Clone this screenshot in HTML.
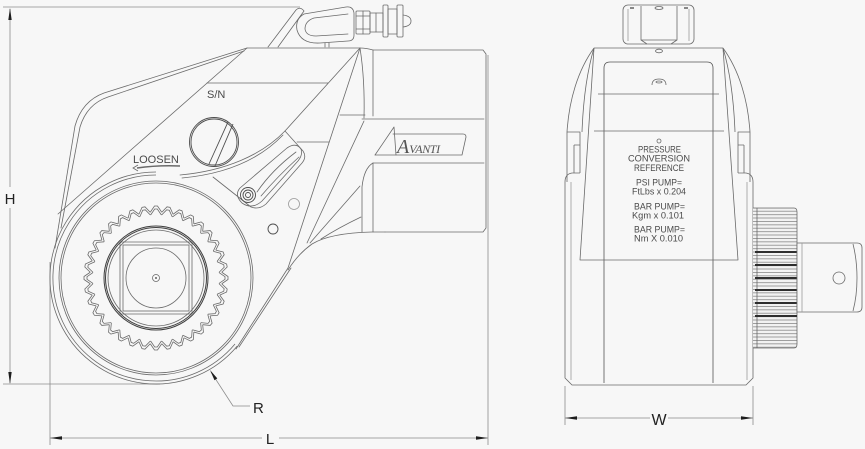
<!DOCTYPE html>
<html><head><meta charset="utf-8">
<style>
html,body{margin:0;padding:0;background:#f7f7f7;}
svg{display:block;}
</style></head>
<body>
<svg width="865" height="449" viewBox="0 0 865 449" xmlns="http://www.w3.org/2000/svg">
<defs>
<pattern id="st" width="6" height="3.4" patternUnits="userSpaceOnUse">
<rect width="6" height="3.4" fill="#f2f2f2"/>
<rect y="0" width="6" height="0.8" fill="#8a8a8a"/>
</pattern>
<g id="t" fill="none" stroke="#6a6a6a" stroke-width="0.8">
<path d="M150.25,212.25 L154.5,206 L157.5,206 L161.75,212.25"/>
<path d="M150.6,215 L154.7,209 L157.3,209 L161.4,215"/>
</g>
</defs>
<rect width="865" height="449" fill="#f7f7f7"/>

<!-- ===== DIMENSIONS ===== -->
<g fill="none" stroke="#8c8c8c" stroke-width="0.8">
<path d="M3,7 H300"/>
<path d="M10,9 V187 M10,208 V383"/>
<path d="M3,384 H160"/>
<path d="M50,262 V445"/>
<path d="M488,55 V445"/>
<path d="M50,438 H262 M279,438 H488"/>
<path d="M211,372 L233,406 H250"/>
<path d="M565,386 V425 M753,386 V425"/>
<path d="M565,418 H650 M668,418 H753"/>
</g>
<g fill="#1e1e1e" stroke="none">
<polygon points="10,8 8.3,20 11.7,20"/>
<polygon points="10,384 8.3,372 11.7,372"/>
<polygon points="50,438 62,436.3 62,439.7"/>
<polygon points="488,438 476,436.3 476,439.7"/>
<polygon points="210,370 217.3,378.4 214.5,380.2"/>
<polygon points="565,418 577,416.3 577,419.7"/>
<polygon points="753,418 741,416.3 741,419.7"/>
</g>
<g font-family="Liberation Sans, sans-serif" fill="#222">
<text x="10" y="204" font-size="15" text-anchor="middle">H</text>
<text x="270" y="444" font-size="15" text-anchor="middle">L</text>
<text x="253" y="413" font-size="15">R</text>
<text x="659" y="425" font-size="16" text-anchor="middle">W</text>
</g>

<!-- ===== SIDE VIEW ===== -->
<g fill="none" stroke="#6a6a6a" stroke-width="0.8" stroke-linejoin="round" stroke-linecap="round">
<!-- top fitting -->
<path d="M268,47 L296,10 Q300,6 304,11 L278,47"/>
<path d="M304,14 L346,7 Q353,6 354,13 L354,35 Q354,41 348,41 L320,43 Q301,44 297,30 Q295,19 304,14 Z"/>
<path d="M348,14 L314,18 Q305,21 305,29 Q306,36 316,36 L348,34"/>
<path d="M325,43 V47 M329,43 V47"/>
<rect x="356" y="11" width="14" height="23" rx="1"/>
<path d="M356,16 H370 M356,29 H370 M363,11 V34"/>
<rect x="370" y="13" width="13" height="19"/>
<path d="M376,13 V32"/>
<rect x="383" y="5" width="5" height="32" rx="1"/>
<rect x="388" y="9" width="9" height="25"/>
<rect x="397" y="5" width="6" height="32" rx="1"/>
<path d="M403,15 Q411,16 411,21 Q411,26 403,27"/>

<!-- top edge & block -->
<path d="M247,48 H360 Q366,48 373,50 H483 L486,54 V228 L483,232 H385"/>
<path d="M373,50 V116"/>
<path d="M360,48 Q365,80 364,118"/>
<path d="M340,115 H365"/>
<path d="M362,119 H484"/>
<path d="M373,163 H484"/>
<path d="M373,163 Q364,168 362,187 V232"/>
<path d="M373,163 V232"/>
<path d="M385,232 H372 Q330,233 312,244 Q298,254 288,270"/>
<path d="M364,121 L307,243"/>
<path d="M360,186 L310,243"/>
<path d="M361,217 Q338,228 321,239"/>
<path d="M360,48 L288,268"/>
<path d="M288,268 L236,349"/>
<path d="M291,268 L239,347"/>

<!-- Avanti logo -->
<path d="M375,155 L394,127 L396,155"/>
<path d="M375,155 H462 L466,137 Q466,134 463,134 H393"/>

<!-- back contour -->
<path d="M247,48 L104,93 Q82,101 75,126 L55,248"/>
<path d="M244,51 L108,97 Q87,104 80,127 L61,228"/>
<!-- plate -->
<path d="M247,48 L58,214"/>
<path d="M207,83 H328"/>
<path d="M360,48 L285,131"/>
<path d="M285,131 C262,155 225,171 180,175"/>
<path d="M283,135 C260,159 226,174 182,178"/>

<!-- lever housing -->
<path d="M285,131 L303,151 Q307,157 302,163 L266,204 Q259,210 251,207 L213,177"/>
<path d="M297,142 H329"/>
<!-- lever -->
<path d="M240,188 L287,148 Q296,142 301,149 Q303,155 298,161 L262,201 Q252,210 242,203 Q234,195 240,188 Z"/>
<path d="M257,192 Q272,170 296,152"/>
<path d="M261,196 Q278,176 299,157"/>
</g>
<g fill="none" stroke="#4e4e4e" stroke-width="0.9">
<circle cx="248" cy="195" r="7.5"/>
<circle cx="248" cy="195" r="5"/>
<circle cx="248" cy="195" r="2.5"/>
<circle cx="214" cy="142" r="24.5"/>
<circle cx="214" cy="142" r="23"/>
<path d="M228,122 L209,164 M233,124 L215,166"/>
<circle cx="273" cy="229" r="5"/>
</g>
<circle cx="294" cy="204" r="5.5" fill="none" stroke="#9a9a9a" stroke-width="0.8"/>

<!-- LOOSEN arrow -->
<path d="M137,168 Q158,165 180,166" fill="none" stroke="#6a6a6a" stroke-width="1.4"/>
<path d="M138,165 L133,168 L138,171" fill="none" stroke="#6a6a6a" stroke-width="0.8"/>

<g font-family="Liberation Sans, sans-serif" fill="#4a4a4a">
<text x="207" y="98" font-size="11">S/N</text>
<text x="133" y="163" font-size="11">LOOSEN</text>
</g>
<g font-family="Liberation Serif, serif" font-style="italic" fill="#555">
<text x="397" y="153"><tspan font-size="20">A</tspan><tspan font-size="12" letter-spacing="-0.4">VANTI</tspan></text>
</g>

<!-- big ring -->
<g fill="none" stroke="#6a6a6a" stroke-width="0.8">
<path d="M156,172 A106,106 0 1 0 237.2,346.1"/>
<path d="M156,175 A103,103 0 1 0 235,344"/>
<circle cx="156" cy="278" r="97"/>
<circle cx="156" cy="278" r="95"/>
<circle cx="156" cy="278" r="48"/>
<circle cx="156" cy="278" r="30"/>
<circle cx="156" cy="278" r="3.5"/>
<rect x="120" y="242" width="72" height="72" rx="2"/>
<rect x="123" y="245" width="66" height="66"/>
</g>
<g fill="none" stroke="#3e3e3e" stroke-width="1">
<circle cx="156" cy="278" r="52"/>
<circle cx="156" cy="278" r="50.5"/>
</g>
<circle cx="156" cy="278" r="0.9" fill="#333"/>
<use href="#t"/>
<use href="#t" transform="rotate(10 156 278)"/>
<use href="#t" transform="rotate(20 156 278)"/>
<use href="#t" transform="rotate(30 156 278)"/>
<use href="#t" transform="rotate(40 156 278)"/>
<use href="#t" transform="rotate(50 156 278)"/>
<use href="#t" transform="rotate(60 156 278)"/>
<use href="#t" transform="rotate(70 156 278)"/>
<use href="#t" transform="rotate(80 156 278)"/>
<use href="#t" transform="rotate(90 156 278)"/>
<use href="#t" transform="rotate(100 156 278)"/>
<use href="#t" transform="rotate(110 156 278)"/>
<use href="#t" transform="rotate(120 156 278)"/>
<use href="#t" transform="rotate(130 156 278)"/>
<use href="#t" transform="rotate(140 156 278)"/>
<use href="#t" transform="rotate(150 156 278)"/>
<use href="#t" transform="rotate(160 156 278)"/>
<use href="#t" transform="rotate(170 156 278)"/>
<use href="#t" transform="rotate(180 156 278)"/>
<use href="#t" transform="rotate(190 156 278)"/>
<use href="#t" transform="rotate(200 156 278)"/>
<use href="#t" transform="rotate(210 156 278)"/>
<use href="#t" transform="rotate(220 156 278)"/>
<use href="#t" transform="rotate(230 156 278)"/>
<use href="#t" transform="rotate(240 156 278)"/>
<use href="#t" transform="rotate(250 156 278)"/>
<use href="#t" transform="rotate(260 156 278)"/>
<use href="#t" transform="rotate(270 156 278)"/>
<use href="#t" transform="rotate(280 156 278)"/>
<use href="#t" transform="rotate(290 156 278)"/>
<use href="#t" transform="rotate(300 156 278)"/>
<use href="#t" transform="rotate(310 156 278)"/>
<use href="#t" transform="rotate(320 156 278)"/>
<use href="#t" transform="rotate(330 156 278)"/>
<use href="#t" transform="rotate(340 156 278)"/>
<use href="#t" transform="rotate(350 156 278)"/>

<!-- ===== FRONT VIEW ===== -->
<g fill="none" stroke="#6a6a6a" stroke-width="0.8" stroke-linejoin="round">
<!-- fitting -->
<rect x="623" y="5" width="71" height="39" rx="5"/>
<path d="M641,6 V40 L647,44 M677,6 V40 L671,44 M641,40 H677"/>
<path d="M628,9 V41 M689,9 V41" stroke="#9a9a9a"/>
<ellipse cx="659" cy="8" rx="4" ry="1.5"/>
<path d="M630,8 H634 M684,8 H688" stroke="#444" stroke-width="1.2"/>
<!-- top -->
<path d="M594,48 H723"/>
<ellipse cx="659" cy="51" rx="3.5" ry="1.8"/>
<path d="M594,48 C578,70 569,100 567,132"/>
<path d="M723,48 C739,70 748,100 750,132"/>
<path d="M594,48 C586,75 583,105 582,132"/>
<path d="M723,48 C731,75 734,105 735,132"/>
<!-- wings -->
<path d="M567,132 H580 V173 M567,132 V182 M574,145 V173 M574,145 H580"/>
<path d="M750,132 H738 V173 M750,132 V182 M744,145 V173 M744,145 H738"/>
<!-- body -->
<path d="M565,182 Q565,174 572,173 H580"/>
<path d="M753,182 Q753,174 746,173 H738"/>
<path d="M565,182 V378 L572,385 H746 L753,378 V182"/>
<path d="M571,182 V380 M747,182 V380" stroke="#9a9a9a"/>
<!-- panel -->
<path d="M604,383 V68 Q604,62 610,62 H707 Q713,62 713,68 V383" stroke="#555"/>
<path d="M598,94 H719"/>
<path d="M594,131 H724"/>
<path d="M594,48 L580,260 H738 L723,48"/>
<path d="M652,85 Q652,79 659,79 Q666,79 666,85"/>
<ellipse cx="659" cy="82" rx="3" ry="1"/>
<circle cx="659" cy="141" r="2"/>
<!-- drive gear -->
<path d="M753,208 H794 Q797,208 797,212 V344 Q797,348 794,348 H753" fill="url(#st)"/>
<path d="M757,208 V348"/>
</g>
<g stroke="#2e2e2e" stroke-width="2">
<path d="M755,252 H797 M755,265 H797 M755,278 H797 M755,290 H797 M755,303 H797 M755,316 H797"/>
</g>
<g fill="none" stroke="#6a6a6a" stroke-width="0.8">
<path d="M797,243 H857 Q862,243 862,248 V307 Q862,312 857,312 H797 Z" fill="#f7f7f7"/>
<path d="M853,244 Q857,260 857,278 Q857,296 853,311"/>
<path d="M802,243 V312" stroke="#9a9a9a"/>
<circle cx="839" cy="278" r="6"/>
</g>

<!-- label text -->
<g font-family="Liberation Sans, sans-serif" font-size="9.5" fill="#4a4a4a" text-anchor="middle">
<text x="659.5" y="152.3" textLength="43" lengthAdjust="spacingAndGlyphs">PRESSURE</text>
<text x="659" y="161.3" textLength="62" lengthAdjust="spacingAndGlyphs">CONVERSION</text>
<text x="659" y="171" textLength="50" lengthAdjust="spacingAndGlyphs">REFERENCE</text>
<text x="659" y="185.3" textLength="46" lengthAdjust="spacingAndGlyphs">PSI PUMP=</text>
<text x="659" y="194.3" textLength="54" lengthAdjust="spacingAndGlyphs">FtLbs x 0.204</text>
<text x="659.5" y="209.3" textLength="51" lengthAdjust="spacingAndGlyphs">BAR PUMP=</text>
<text x="658" y="218.3" textLength="52" lengthAdjust="spacingAndGlyphs">Kgm x 0.101</text>
<text x="659.5" y="232.3" textLength="51" lengthAdjust="spacingAndGlyphs">BAR PUMP=</text>
<text x="658.5" y="241.3" textLength="49" lengthAdjust="spacingAndGlyphs">Nm X 0.010</text>
</g>
</svg>
</body></html>
